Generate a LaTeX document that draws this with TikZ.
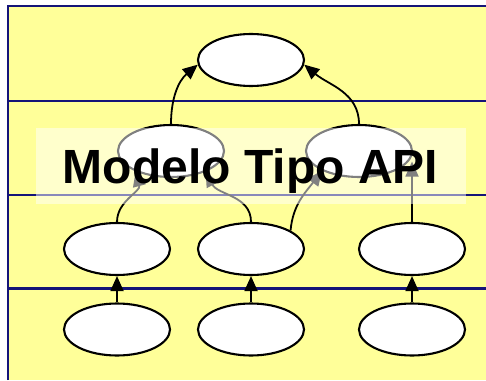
\documentclass[tikz,border=0pt]{standalone}
\usepackage{fontspec}
\setmainfont{Liberation Sans}
\usetikzlibrary{arrows.meta,shapes.geometric}
\definecolor{bgyellow}{RGB}{255,255,153}
\definecolor{navyline}{RGB}{20,20,120}
\begin{document}
\begin{tikzpicture}[x=1pt,y=1pt,
  bubble/.style={ellipse, draw=black, fill=white, line width=2.1pt, minimum width=106pt, minimum height=52pt, inner sep=0pt},
  link/.style={line width=1.8pt, -{Triangle[length=15pt,width=13pt]}},
  rule/.style={draw=navyline, line width=2.8pt}]
\useasboundingbox (0,0) rectangle (486,380);
% background
\fill[bgyellow] (8,0) rectangle (486,374);
\draw[rule] (8,0) -- (8,374) -- (486,374);
\draw[rule] (8,279) -- (486,279);
\draw[rule] (8,185) -- (486,185);
\draw[rule] (8,91.5) -- (486,91.5);
% nodes
\node[bubble] (top) at (251,320) {};
\node[bubble] (m1) at (171,229) {};
\node[bubble] (m2) at (359,229) {};
\node[bubble] (r1) at (117,131) {};
\node[bubble] (r2) at (251,131) {};
\node[bubble] (r3) at (412,131) {};
\node[bubble] (b1) at (117,50.5) {};
\node[bubble] (b2) at (251,50.5) {};
\node[bubble] (b3) at (412,50.5) {};
% connectors
\draw[link] (b1.north) -- (r1.south);
\draw[link] (b2.north) -- (r2.south);
\draw[link] (b3.north) -- (r3.south);
\draw[link] (m1.north) to[out=90,in=220] (top.185);
\draw[link] (m2.north) to[out=90,in=-40] (top.-5);
\draw[link] (r1.north) to[out=90,in=-75] (m1.210);
\draw[link] (r2.north) to[out=90,in=-62] (m1.-31);
\draw[link] (r2.25) to[out=85,in=233] (m2.208);
\draw[link] (r3.north) -- (r3.north |- m2.-12);
% veil and title
\node[fill=white, fill opacity=0.5, minimum width=430pt, minimum height=76pt, inner sep=0pt] (veil) at (251,214) {};
\node[font=\bfseries\fontsize{48}{48}\selectfont, anchor=base, inner sep=0pt] (title) at (250.5,196) {Modelo Tipo API};
\end{tikzpicture}
\end{document}
